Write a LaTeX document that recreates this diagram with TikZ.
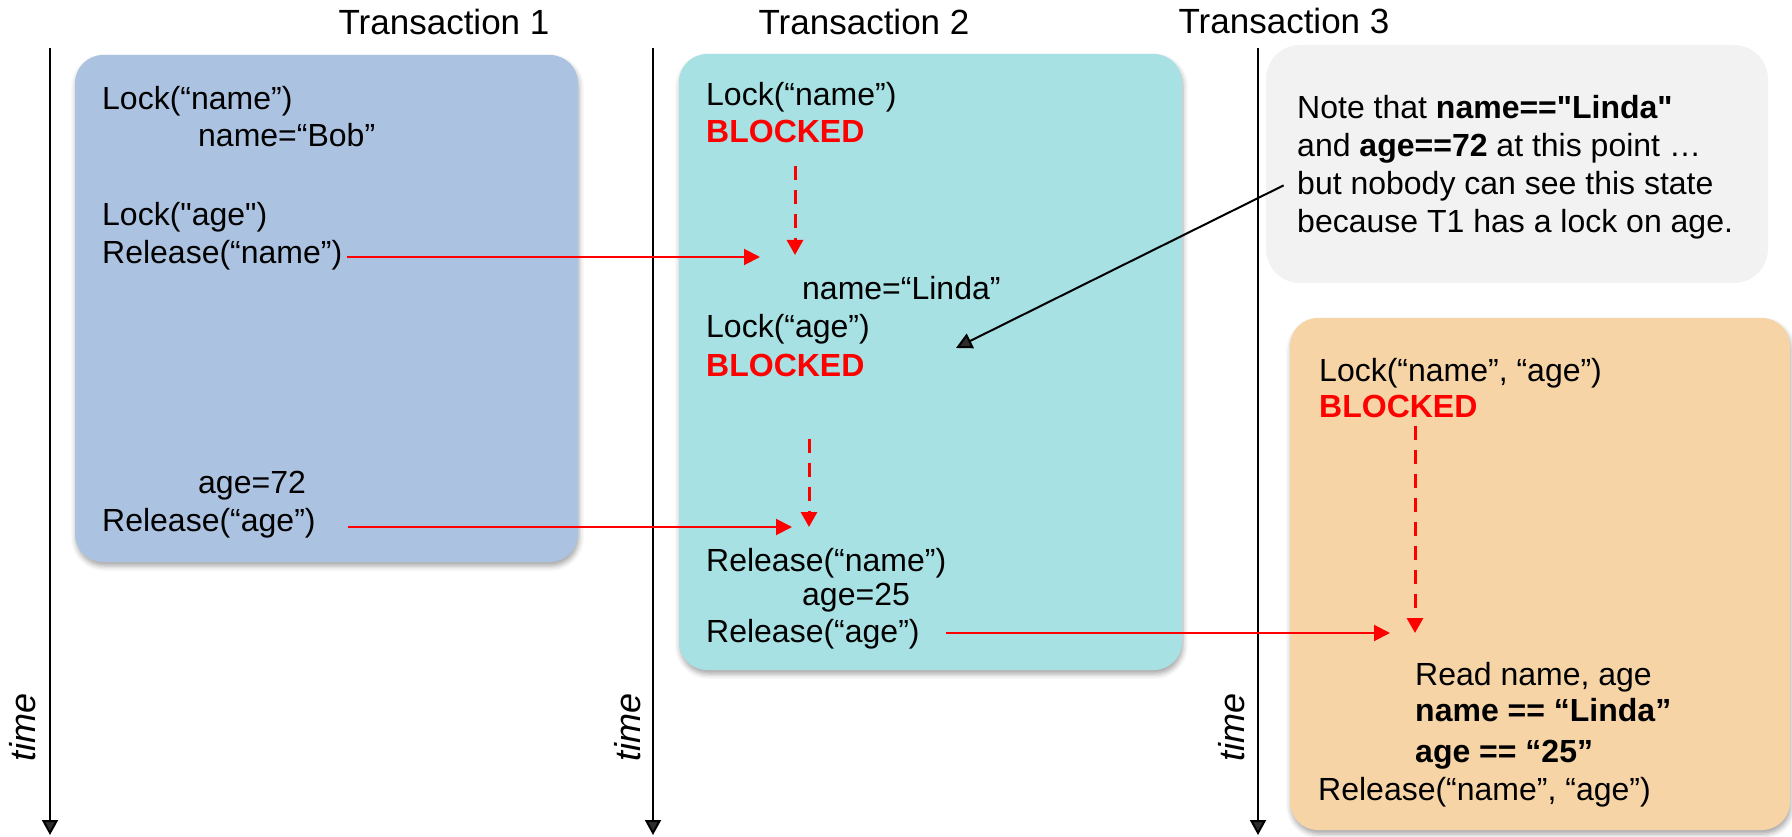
\documentclass[tikz,border=0pt]{standalone}
\usepackage{fontspec}
\setmainfont{Liberation Sans}[Ligatures=TeXOff]
\usepackage{tikz}
\usetikzlibrary{arrows.meta,shadows.blur}

\definecolor{t1fill}{RGB}{171,195,225}
\definecolor{t2fill}{RGB}{168,225,227}
\definecolor{t3fill}{RGB}{246,212,166}
\definecolor{notefill}{RGB}{242,242,242}

\begin{document}
\begin{tikzpicture}[x=1pt,y=-1pt,
		stmt/.style={anchor=base west,inner sep=0pt,font=\fontsize{32}{38}\selectfont},
		stmtb/.style={stmt,font=\fontsize{32}{38}\selectfont\bfseries},
		blocked/.style={stmtb,text=red},
		txnhead/.style={anchor=base,inner sep=0pt,font=\fontsize{35}{42}\selectfont},
		timelabel/.style={rotate=90,inner sep=0pt,font=\fontsize{36}{42}\selectfont\itshape},
		timeaxis/.style={line width=2pt,-{Triangle[width=16pt,length=15pt]}},
		handoff/.style={red,line width=2pt,-{Triangle[width=16pt,length=16pt]}},
		waiting/.style={red,line width=3pt,dash pattern=on 14pt off 10pt,-{Triangle[width=16pt,length=15pt]}},
		pointer/.style={line width=2pt,-{Triangle[width=16pt,length=16pt]}},
		card/.style={rounded corners=28pt,blur shadow={shadow xshift=1pt,shadow yshift=-4pt,shadow blur radius=5pt,shadow opacity=35}}]
	\useasboundingbox (0,0) rectangle (1792,837);

	% the three transactions
	\path[card,fill=t1fill] (75,55) rectangle (578,562);
	\path[card,fill=t2fill] (679,54) rectangle (1182,670);
	\path[card,fill=t3fill] (1290,318) rectangle (1790,830);
	\path[fill=notefill,rounded corners=34pt] (1266,45) rectangle (1768,283);

	\node[txnhead] (h1) at (444,35) {Transaction 1};
	\node[txnhead] (h2) at (864,35) {Transaction 2};
	\node[txnhead] (h3) at (1284,34) {Transaction 3};

	\foreach \x/\l [count=\i] in {50/23,653/628,1258/1232} {
		\draw[timeaxis] (\x,48) -- (\x,835);
		\node[timelabel] (time\i) at (\l,727) {time};
	}

	% T1
	\node[stmt] (a1) at (102,110) {Lock(“name”)};
	\node[stmt] (a2) at (198,147) {name=“Bob”};
	\node[stmt] (a3) at (102,226) {Lock("age")};
	\node[stmt] (a4) at (102,264) {Release(“name”)};
	\node[stmt] (a5) at (198,493) {age=72};
	\node[stmt] (a6) at (102,531) {Release(“age”)};

	% T2
	\node[stmt] (b1) at (706,106) {Lock(“name”)};
	\node[blocked] (b2) at (706,143) {BLOCKED};
	\node[stmt] (b3) at (802,299) {name=“Linda”};
	\node[stmt] (b4) at (706,337) {Lock(“age”)};
	\node[blocked] (b5) at (706,376) {BLOCKED};
	\node[stmt] (b6) at (706,571) {Release(“name”)};
	\node[stmt] (b7) at (802,605) {age=25};
	\node[stmt] (b8) at (706,642) {Release(“age”)};

	% T3
	\node[stmt] (c1) at (1319,381) {Lock(“name”, “age”)};
	\node[blocked] (c2) at (1319,417) {BLOCKED};
	\node[stmt] (c3) at (1415,685) {Read name, age};
	\node[stmtb] (c4) at (1415,721) {name == “Linda”};
	\node[stmtb] (c5) at (1415,762) {age == “25”};
	\node[stmt] (c6) at (1318,800) {Release(“name”, “age”)};

	% note
	\node[stmt] (n1) at (1297,119) {Note that \textbf{name=="Linda"}};
	\node[stmt] (n2) at (1297,157) {and \textbf{age==72} at this point …};
	\node[stmt] (n3) at (1297,195) {but nobody can see this state};
	\node[stmt] (n4) at (1297,233) {because T1 has a lock on age.};

	% lock hand-offs
	\coordinate (w1) at (760,257);
	\coordinate (w2) at (792,527);
	\coordinate (w3) at (1390,633);
	\draw[handoff,shorten <=5pt] (a4.east |- w1) -- (w1);
	\draw[handoff,shorten <=32pt] (a6.east |- w2) -- (w2);
	\draw[handoff,shorten <=26pt] (b8.east |- w3) -- (w3);

	\coordinate (d1) at (795,255);
	\coordinate (d2) at (809,527);
	\coordinate (d3) at (1415,633);
	\draw[waiting,shorten <=22pt] (b2.south -| d1) -- (d1);
	\draw[waiting,shorten <=62pt] (b5.south -| d2) -- (d2);
	\draw[waiting,shorten <=8pt] (c2.south -| d3) -- (d3);

	\coordinate (seen) at (956,348);
	\draw[pointer,shorten <=15pt] ([yshift=8pt]n3.west) -- (seen);
\end{tikzpicture}
\end{document}
